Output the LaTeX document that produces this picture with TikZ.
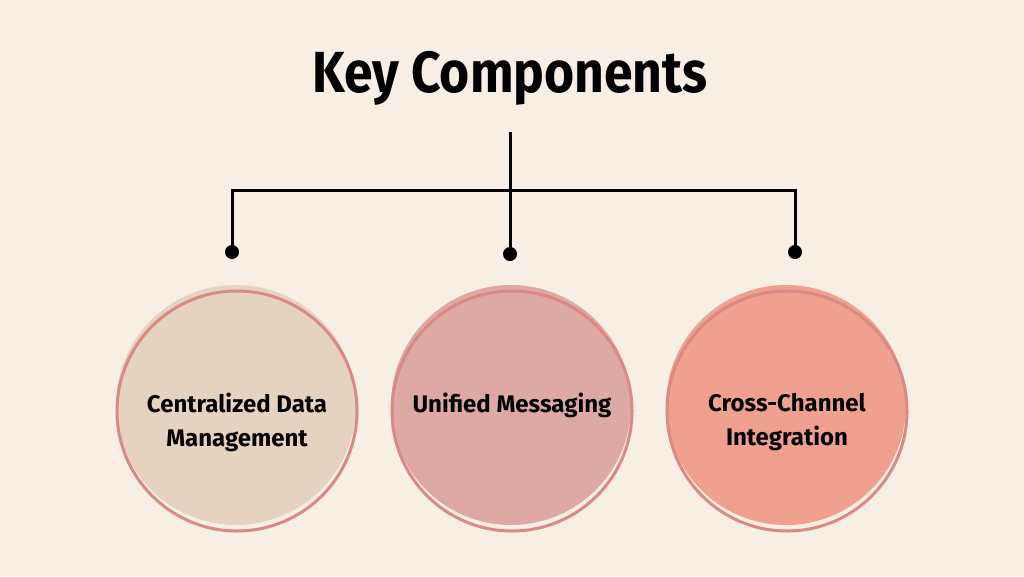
\documentclass[tikz,border=0pt]{standalone}
\usepackage{fontspec}
\usepackage{graphicx}
\setmainfont{Fira Sans}
\definecolor{bg}{HTML}{F7EFE3}
\definecolor{ringc}{HTML}{D98A84}
\definecolor{fillA}{HTML}{E5D3BF}
\definecolor{fillB}{HTML}{DEA9A3}
\definecolor{fillC}{HTML}{F0A08E}
\begin{document}
\begin{tikzpicture}[x=1pt,y=-1pt,
  conn/.style={line width=3pt,black},
  dotc/.style={circle,fill=black,inner sep=0pt,minimum size=14pt},
  blob/.style={circle,inner sep=0pt,minimum size=240pt},
  ringo/.style={circle,draw=ringc,line width=3pt,inner sep=0pt,minimum size=240pt},
  lbl/.style={align=center,font=\fontsize{24}{34}\selectfont\bfseries,text=black}]
\fill[bg] (0,0) rectangle (1024,576);
\useasboundingbox (0,0) rectangle (1024,576);
\node[font=\fontsize{58}{60}\selectfont\bfseries] (title) at (510,78) {\scalebox{0.89}[1]{Key Components}};
\node[dotc] (d1) at (232,252) {};
\node[dotc] (d2) at (510,254) {};
\node[dotc] (d3) at (795,252) {};
\coordinate (top) at (510,132);
\coordinate (hl) at (232,190);
\coordinate (hr) at (795,190);
\draw[conn] (top) -- (d2.center);
\draw[conn] (d1.center) -- (hl) -- (hr) -- (d3.center);
% circles
\node[blob,fill=fillA] (c1f) at (236,405) {};
\node[ringo] (c1) at (237,411) {};
\node[blob,fill=fillB] (c2f) at (511,405) {};
\node[ringo] (c2) at (512,411) {};
\node[blob,fill=fillC] (c3f) at (786,405) {};
\node[ringo] (c3) at (787,411) {};
\node[lbl] (t1) at (237,422) {Centralized Data\\Management};
\node[lbl] (t2) at (512,405) {Unified Messaging};
\node[lbl] (t3) at (787,422) {Cross-Channel\\Integration};
\end{tikzpicture}
\end{document}
